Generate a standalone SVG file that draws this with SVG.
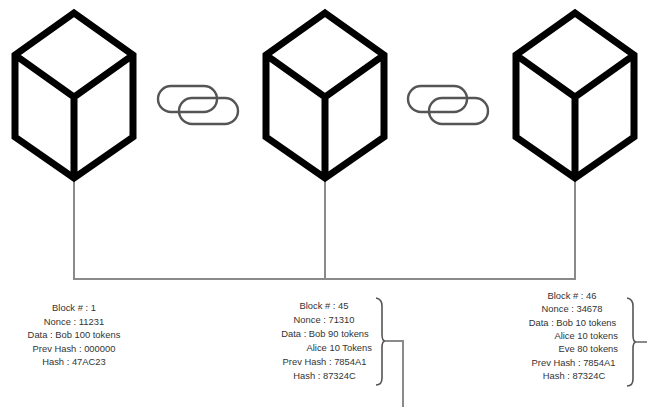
<svg xmlns="http://www.w3.org/2000/svg" width="647" height="407" viewBox="0 0 647 407">
  <defs>
    <style>
      .cube { fill: none; stroke: #000; stroke-width: 7; stroke-linejoin: miter; }
      .link { fill: none; stroke: #555; stroke-width: 2.4; }
      .wire { fill: none; stroke: #8a8a8a; stroke-width: 2; }
      .brace { fill: none; stroke: #555; stroke-width: 1.6; }
      .info { font-family: "Liberation Sans", Arial, sans-serif; font-size: 9.4px; fill: #333; }
      .c { text-anchor: middle; }
      .r { text-anchor: end; }
    </style>
    <!-- isometric cube centred on x=0 -->
    <g id="cubeShape">
      <path class="cube" d="M0 13 L59 55 L59 137 L0 178 L-59 137 L-59 55 Z M-59 55 L0 97 L59 55 M0 97 L0 178"/>
    </g>
    <!-- two interlocked chain links -->
    <g id="chainShape">
      <rect class="link" x="158" y="86" width="59" height="26" rx="13"/>
      <rect class="link" x="179" y="98" width="59" height="26" rx="13"/>
    </g>
  </defs>

  <rect width="647" height="407" fill="#fff"/>

  <g id="connectors">
    <path class="wire" d="M74 178 L74 279 L575 279 L575 178"/>
    <path class="wire" d="M325 178 L325 279"/>
    <path class="brace" d="M376 298 Q382 299 382 306 L382 334 Q382 341 385 341 Q382 341 382 348 L382 378 Q382 385 376 385"/>
    <path class="wire" d="M385 341 L403 341 L403 407"/>
    <path class="brace" d="M627 298 Q633 299 633 306 L633 335 Q633 342 636 342 Q633 342 633 349 L633 379 Q633 386 627 386"/>
    <path class="wire" d="M636 342 L647 342"/>
  </g>

  <g id="block1">
    <use href="#cubeShape" transform="translate(74 0)"/>
  </g>
  <g id="link1">
    <use href="#chainShape"/>
  </g>
  <g id="block45">
    <use href="#cubeShape" transform="translate(325 0)"/>
  </g>
  <g id="link2">
    <use href="#chainShape" transform="translate(250 0)"/>
  </g>
  <g id="block46">
    <use href="#cubeShape" transform="translate(575 0)"/>
  </g>

  <g id="info1" class="info">
    <text class="c" x="74" y="311">Block # : 1</text>
    <text class="c" x="74" y="324.5">Nonce : 11231</text>
    <text class="c" x="74" y="338">Data : Bob 100 tokens</text>
    <text class="c" x="74" y="351.5">Prev Hash : 000000</text>
    <text class="c" x="74" y="365">Hash : 47AC23</text>
  </g>

  <g id="info45" class="info">
    <text class="c" x="324" y="309">Block # : 45</text>
    <text class="c" x="324" y="323">Nonce : 71310</text>
    <text class="c" x="325" y="337">Data : Bob 90 tokens</text>
    <text class="r" x="372" y="351">Alice 10 Tokens</text>
    <text class="c" x="324.5" y="365">Prev Hash : 7854A1</text>
    <text class="c" x="324.5" y="378.5">Hash : 87324C</text>
  </g>

  <g id="info46" class="info">
    <text class="c" x="572" y="298.5">Block # : 46</text>
    <text class="c" x="572" y="312">Nonce : 34678</text>
    <text class="c" x="572.5" y="325.5">Data : Bob 10 tokens</text>
    <text class="r" x="618" y="339">Alice 10 tokens</text>
    <text class="r" x="618" y="352">Eve 80 tokens</text>
    <text class="c" x="573.5" y="365.5">Prev Hash : 7854A1</text>
    <text class="c" x="574" y="379">Hash : 87324C</text>
  </g>
</svg>
